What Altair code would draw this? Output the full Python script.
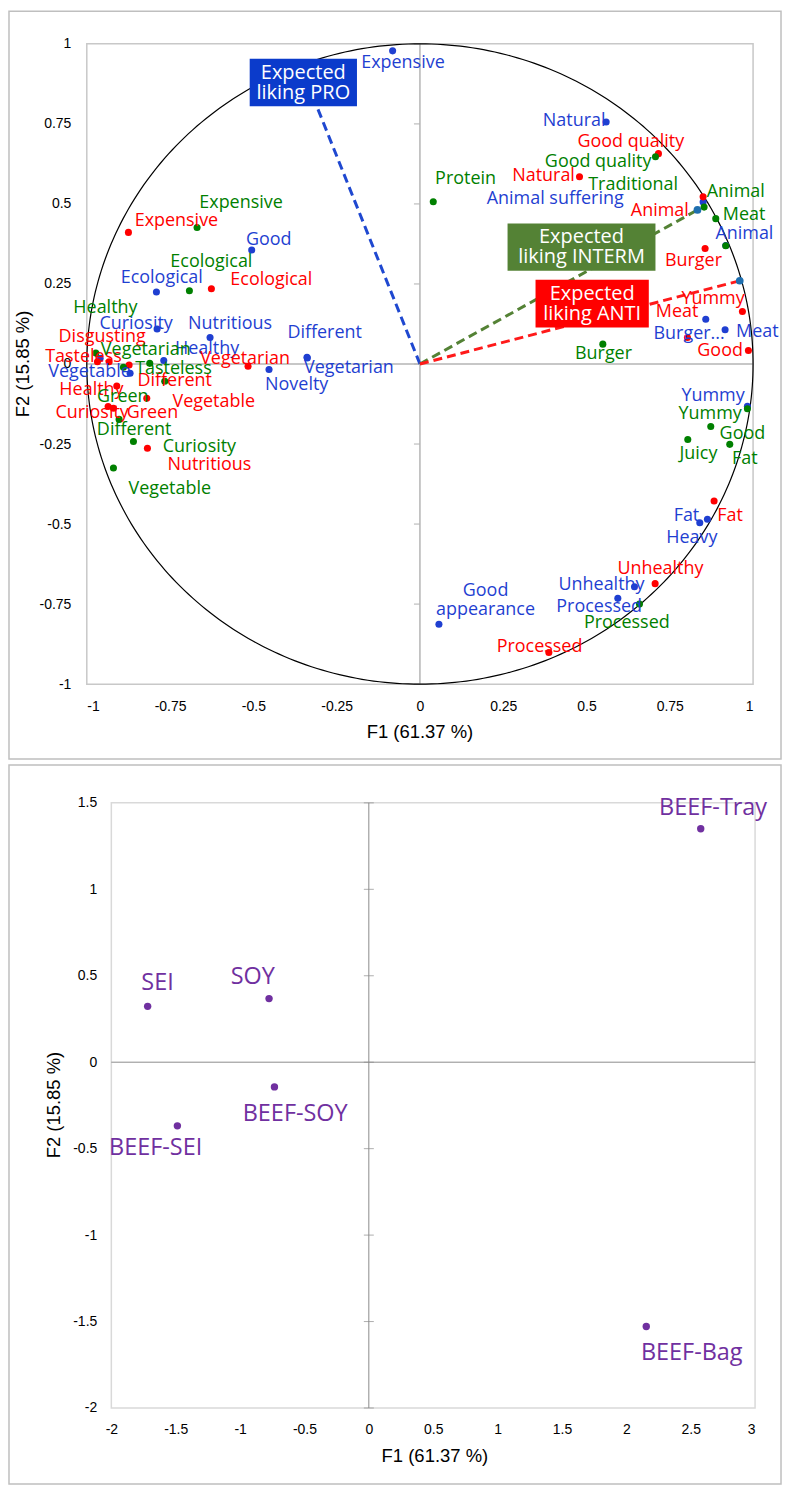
import altair as alt
import numpy as np
import pandas as pd

# ---------------- Top panel: correlation circle (F1 x F2) ----------------
blue_names = ["Expensive", "Natural", "Animal suffering", "Good", "Ecological", "Curiosity",
              "Nutritious", "Healthy", "", "Vegetable", "Different", "Vegetarian", "Novelty",
              "Animal", "Burger...", "Meat", "Yummy", "Fat", "Heavy", "Unhealthy", "Processed",
              "Good\nappearance"]
blue_x = [-0.082, 0.559, 0.850, -0.505, -0.791, -0.789, -0.630, -0.769, -0.960, -0.870, -0.339,
          -0.338, -0.453, 0.918, 0.858, 0.916, 0.983, 0.863, 0.840, 0.644, 0.594, 0.057]
blue_y = [0.978, 0.756, 0.506, 0.356, 0.225, 0.109, 0.083, 0.011, 0.018, -0.029, 0.021,
          0.019, -0.017, 0.370, 0.140, 0.107, -0.132, -0.485, -0.496, -0.696, -0.732, -0.813]
blue_lx = [-0.051, 0.463, 0.406, -0.454, -0.775, -0.852, -0.570, -0.639, -0.960, -0.992, -0.286,
           -0.213, -0.370, 0.974, 0.808, 1.013, 0.880, 0.800, 0.816, 0.545, 0.538, 0.197]
blue_ly = [0.940, 0.758, 0.516, 0.388, 0.270, 0.125, 0.125, 0.047, 0.018, -0.026, 0.097,
           -0.013, -0.065, 0.405, 0.093, 0.101, -0.101, -0.475, -0.542, -0.690, -0.760, -0.708]

red_names = ["Expensive", "Ecological", "Disgusting", "Tasteless", "Different", "Healthy",
             "Vegetable", "Curiosity", "Green", "Nutritious", "Vegetarian", "Good quality",
             "Natural", "Animal", "Burger", "Yummy", "Meat", "Good", "Fat", "Unhealthy", "Processed"]
red_x = [-0.875, -0.626, -0.933, -0.968, -0.873, -0.910, -0.820, -0.936, -0.920, -0.818, -0.516,
         0.716, 0.479, 0.850, 0.856, 0.968, 0.803, 0.986, 0.883, 0.706, 0.387]
red_y = [0.411, 0.235, 0.007, 0.007, -0.003, -0.069, -0.107, -0.133, -0.138, -0.263, -0.007,
         0.657, 0.585, 0.522, 0.361, 0.164, 0.083, 0.042, -0.428, -0.686, -0.901]
red_lx = [-0.731, -0.446, -0.954, -1.010, -0.736, -0.986, -0.619, -0.984, -0.803, -0.632, -0.525,
          0.633, 0.371, 0.720, 0.821, 0.880, 0.772, 0.901, 0.931, 0.722, 0.359]
red_ly = [0.448, 0.262, 0.083, 0.023, -0.054, -0.080, -0.119, -0.154, -0.154, -0.317, 0.016,
          0.694, 0.587, 0.478, 0.322, 0.202, 0.163, 0.039, -0.474, -0.640, -0.883]

green_names = ["Expensive", "Ecological", "Healthy", "Vegetarian", "Tasteless", "Different",
               "Green", "Curiosity", "Vegetable", "Protein", "Good quality", "Traditional",
               "Animal", "Meat", "Burger", "Yummy", "Good", "Fat", "Juicy", "Processed"]
green_x = [-0.669, -0.692, -0.973, -0.890, -0.811, -0.766, -0.903, -0.860, -0.920, 0.040, 0.707,
           0.853, 0.888, 0.918, 0.549, 0.983, 0.873, 0.930, 0.804, 0.659]
green_y = [0.426, 0.229, 0.034, -0.010, 0.002, -0.054, -0.173, -0.242, -0.325, 0.507, 0.647,
           0.490, 0.454, 0.369, 0.062, -0.140, -0.195, -0.251, -0.236, -0.750]
green_lx = [-0.537, -0.626, -0.944, -0.823, -0.740, -0.858, -0.892, -0.662, -0.751, 0.137, 0.535,
            0.640, 0.948, 0.973, 0.551, 0.871, 0.968, 0.975, 0.836, 0.621]
green_ly = [0.504, 0.317, 0.174, 0.044, -0.016, -0.207, -0.104, -0.259, -0.389, 0.579, 0.631,
            0.558, 0.537, 0.465, 0.031, -0.156, -0.218, -0.298, -0.281, -0.808]

# supplementary "expected liking" vectors (from the origin)
vec_names = ["Expected\nliking PRO", "Expected\nliking INTERM", "Expected\nliking ANTI"]
vec_x = [-0.327, 0.833, 0.960]
vec_y = [0.850, 0.481, 0.260]
box_x1 = [-0.511, 0.263, 0.347]
box_x2 = [-0.189, 0.707, 0.687]
box_y1 = [0.953, 0.439, 0.263]
box_y2 = [0.805, 0.291, 0.114]

top_ticks = [-1, -0.75, -0.5, -0.25, 0, 0.25, 0.5, 0.75, 1]

# ---------------- Bottom panel: products (F1 x F2) ----------------
prod_names = ["BEEF-Tray", "SEI", "SOY", "BEEF-SOY", "BEEF-SEI", "BEEF-Bag"]
prod_x = [2.578, -1.718, -0.775, -0.733, -1.487, 2.155]
prod_y = [1.350, 0.323, 0.368, -0.143, -0.368, -1.529]
prod_lx = [2.674, -1.641, -0.901, -0.572, -1.656, 2.508]
prod_ly = [1.471, 0.456, 0.490, -0.300, -0.496, -1.680]

bot_xticks = [-2, -1.5, -1, -0.5, 0, 0.5, 1, 1.5, 2, 2.5, 3]
bot_yticks = [-2, -1.5, -1, -0.5, 0, 0.5, 1, 1.5]

x_title = "F1 (61.37 %)"
y_title = "F2 (15.85 %)"

# ---------------- styling ----------------
FONT_LBL = "Open Sans"
FONT_AX = "Liberation Sans"
group_dom = ["blue", "red", "green"]
group_col = ["#1F3FD1", "#FF0000", "#008000"]
vec_line_col = ["#1F48D0", "#548235", "#FF1A1A"]
box_col = ["#0B3BCB", "#548235", "#FF0000"]
TEAL = "#1F6FAF"
PURPLE = "#7030A0"
ZERO_TOP = "#B4B4B4"
ZERO_BOT = "#8C8C8C"
FRAME = "#BFBFBF"
BORDER_TOP = "#C8C8C8"
BORDER_BOT = "#D9D9D9"
LABEL_EXPR = "toString(datum.value)"
LBL_SIZE = 18
LBL_LH = 19      # px between lines of a two-line label
BOX_LH = 20

# geometry (pixels)
TOP_W, TOP_H = 668, 642
BOT_PAD_L = 24.6            # bottom data area starts this far right of the shared view edge
BOT_W, BOT_H = 670, 606.7
FRAME_L, FRAME_R_TOP, FRAME_T_TOP, FRAME_B_TOP = 78, 28, 32.7, 75
FRAME_R_BOT, FRAME_T_BOT, FRAME_B_BOT = 26, 38, 76.3

TDX, TDY = [-1, 1], [-1, 1]
kx_top = (TDX[1] - TDX[0]) / TOP_W
ky_top = (TDY[1] - TDY[0]) / TOP_H
BDATA_X, BDY = [-2, 3], [-2, 1.5]
kx_bot = (BDATA_X[1] - BDATA_X[0]) / (BOT_W - BOT_PAD_L)
ky_bot = (BDY[1] - BDY[0]) / BOT_H
BDX = [BDATA_X[0] - BOT_PAD_L * kx_bot, BDATA_X[1]]


# ---------------- tables ----------------
def make_df(names, xs, ys, group):
    return pd.DataFrame({"name": names, "x": xs, "y": ys, "group": group})


def split_lines(df, step):
    rows = []
    for _, r in df.iterrows():
        if r["name"] == "":
            continue
        for i, part in enumerate(str(r["name"]).split("\n")):
            rows.append({"name": part, "x": r["x"], "y": r["y"] - i * step, "group": r["group"]})
    return pd.DataFrame(rows)


pts = pd.concat([make_df(blue_names, blue_x, blue_y, "blue"),
                 make_df(red_names, red_x, red_y, "red"),
                 make_df(green_names, green_x, green_y, "green")], ignore_index=True)
lbl = pd.concat([make_df(blue_names, blue_lx, blue_ly, "blue"),
                 make_df(red_names, red_lx, red_ly, "red"),
                 make_df(green_names, green_lx, green_ly, "green")], ignore_index=True)
lbl = split_lines(lbl, LBL_LH * ky_top)

theta = np.linspace(0, 2 * np.pi, 361)
circle = pd.DataFrame({"x": np.cos(theta), "y": np.sin(theta), "i": np.arange(361)})

vec_df = pd.DataFrame({"name": vec_names, "x": [0.0] * 3, "y": [0.0] * 3, "vx": vec_x, "vy": vec_y})
end_df = pd.DataFrame({"x": vec_x, "y": vec_y})
box_df = pd.DataFrame({"name": vec_names, "x": box_x1, "x2": box_x2, "y": box_y1, "y2": box_y2})
box_txt_df = split_lines(pd.DataFrame({
    "name": vec_names,
    "x": [(a + b) / 2 for a, b in zip(box_x1, box_x2)],
    "y": [(a + b) / 2 + BOX_LH / 2 * ky_top for a, b in zip(box_y1, box_y2)],
    "group": vec_names}), BOX_LH * ky_top)

origin = pd.DataFrame({"x": [0.0], "y": [0.0]})

frame_top_df = pd.DataFrame({"x": [TDX[0] - FRAME_L * kx_top], "x2": [TDX[1] + FRAME_R_TOP * kx_top],
                             "y": [TDY[1] + FRAME_T_TOP * ky_top], "y2": [TDY[0] - FRAME_B_TOP * ky_top]})
border_top_df = pd.DataFrame({"x": [TDX[0]], "x2": [TDX[1]], "y": [TDY[1]], "y2": [TDY[0]]})
top_titles = pd.DataFrame({
    "name": [x_title, y_title],
    "x": [0.0, TDX[0] - 64 * kx_top],
    "y": [TDY[0] - 48 * ky_top, 0.0],
    "angle": [0, 270]})

frame_bot_df = pd.DataFrame({"x": [BDX[0] - FRAME_L * kx_bot], "x2": [BDX[1] + FRAME_R_BOT * kx_bot],
                             "y": [BDY[1] + FRAME_T_BOT * ky_bot], "y2": [BDY[0] - FRAME_B_BOT * ky_bot]})
border_bot_df = pd.DataFrame({"x": [BDATA_X[0]], "x2": [BDATA_X[1]], "y": [BDY[1]], "y2": [BDY[0]]})
zero_h_bot = pd.DataFrame({"x": [BDATA_X[0]], "x2": [BDATA_X[1]], "y": [0.0]})
bot_titles = pd.DataFrame({
    "name": [x_title, y_title],
    "x": [0.513, BDATA_X[0] - 57.6 * kx_bot],
    "y": [BDY[0] - 48.3 * ky_bot, -0.248],
    "angle": [0, 270]})

prod_df = pd.DataFrame({"name": prod_names, "x": prod_x, "y": prod_y})
prod_lbl = pd.DataFrame({"name": prod_names, "x": prod_lx, "y": prod_ly})

# ---------------- top chart ----------------
xs_top = alt.Scale(domain=TDX, nice=False, zero=False)
ys_top = alt.Scale(domain=TDY, nice=False, zero=False)
ax_x_top = alt.Axis(values=top_ticks, labelExpr=LABEL_EXPR, title=None, labelPadding=15)
ax_y_top = alt.Axis(values=top_ticks, labelExpr=LABEL_EXPR, title=None, labelPadding=16)


def TX(f="x"):
    return alt.X(f"{f}:Q", scale=xs_top, axis=ax_x_top)


def TY(f="y"):
    return alt.Y(f"{f}:Q", scale=ys_top, axis=ax_y_top)


grp_color = alt.Color("group:N", scale=alt.Scale(domain=group_dom, range=group_col), legend=None)

frame_top = alt.Chart(frame_top_df).mark_rect(fillOpacity=0, stroke=FRAME, strokeWidth=1.5).encode(
    x=TX(), x2="x2:Q", y=TY(), y2="y2:Q")
border_top = alt.Chart(border_top_df).mark_rect(fillOpacity=0, stroke=BORDER_TOP, strokeWidth=1.5).encode(
    x=TX(), x2="x2:Q", y=TY(), y2="y2:Q")
zv_top = alt.Chart(origin).mark_rule(color=ZERO_TOP, strokeWidth=1.5).encode(x=TX())
zh_top = alt.Chart(origin).mark_rule(color=ZERO_TOP, strokeWidth=1.5).encode(y=TY())
zt_top = alt.Chart(pd.DataFrame({"x": [0.0] * len(top_ticks), "y": top_ticks})).mark_tick(
    orient="horizontal", size=6, thickness=1.5, xOffset=-3, color=ZERO_TOP).encode(x=TX(), y=TY())
circ = alt.Chart(circle).mark_line(color="black", strokeWidth=1.2).encode(x=TX(), y=TY(), order="i:Q")
vlines = alt.Chart(vec_df).mark_rule(strokeWidth=3, strokeDash=[9, 5]).encode(
    x=TX(), y=TY(), x2="vx:Q", y2="vy:Q",
    color=alt.Color("name:N", scale=alt.Scale(domain=vec_names, range=vec_line_col), legend=None))
points = alt.Chart(pts).mark_circle(size=50, opacity=1).encode(x=TX(), y=TY(), color=grp_color)
ends = alt.Chart(end_df).mark_circle(size=60, opacity=1, color=TEAL).encode(x=TX(), y=TY())
boxes = alt.Chart(box_df).mark_rect().encode(
    x=TX(), x2="x2:Q", y=TY(), y2="y2:Q",
    color=alt.Color("name:N", scale=alt.Scale(domain=vec_names, range=box_col), legend=None))
box_txt = alt.Chart(box_txt_df).mark_text(font=FONT_LBL, fontSize=20, color="white").encode(
    x=TX(), y=TY(), text="name:N")
labels = alt.Chart(lbl).mark_text(font=FONT_LBL, fontSize=LBL_SIZE).encode(
    x=TX(), y=TY(), text="name:N", color=grp_color)
titles_top = alt.Chart(top_titles).mark_text(font=FONT_AX, fontSize=18.5, color="black").encode(
    x=TX(), y=TY(), text="name:N", angle=alt.Angle("angle:Q", scale=None))

top = alt.layer(frame_top, border_top, zv_top, zh_top, zt_top, circ, vlines, points, ends, boxes,
                box_txt, labels, titles_top).resolve_scale(color="independent").properties(
    width=TOP_W, height=TOP_H)

# ---------------- bottom chart ----------------
xs_bot = alt.Scale(domain=BDX, nice=False, zero=False)
ys_bot = alt.Scale(domain=BDY, nice=False, zero=False)
ax_x_bot = alt.Axis(values=bot_xticks, labelExpr=LABEL_EXPR, title=None, labelPadding=15)
ax_y_bot = alt.Axis(values=bot_yticks, labelExpr=LABEL_EXPR, title=None, labelPadding=14.6,
                    offset=-BOT_PAD_L)


def BX(f="x"):
    return alt.X(f"{f}:Q", scale=xs_bot, axis=ax_x_bot)


def BY(f="y"):
    return alt.Y(f"{f}:Q", scale=ys_bot, axis=ax_y_bot)


frame_bot = alt.Chart(frame_bot_df).mark_rect(fillOpacity=0, stroke=FRAME, strokeWidth=1.5).encode(
    x=BX(), x2="x2:Q", y=BY(), y2="y2:Q")
border_bot = alt.Chart(border_bot_df).mark_rect(fillOpacity=0, stroke=BORDER_BOT, strokeWidth=1.5).encode(
    x=BX(), x2="x2:Q", y=BY(), y2="y2:Q")
zv_bot = alt.Chart(origin).mark_rule(color=ZERO_BOT, strokeWidth=1).encode(x=BX())
zh_bot = alt.Chart(zero_h_bot).mark_rule(color=ZERO_BOT, strokeWidth=1).encode(x=BX(), x2="x2:Q", y=BY())
zt_bot = alt.Chart(pd.DataFrame({"x": [0.0] * len(bot_yticks), "y": bot_yticks})).mark_tick(
    orient="horizontal", size=10, thickness=1, color=ZERO_BOT).encode(x=BX(), y=BY())
ppoints = alt.Chart(prod_df).mark_circle(size=55, opacity=1, color=PURPLE).encode(x=BX(), y=BY())
plabels = alt.Chart(prod_lbl).mark_text(font=FONT_LBL, fontSize=23.5, color=PURPLE).encode(
    x=BX(), y=BY(), text="name:N")
titles_bot = alt.Chart(bot_titles).mark_text(font=FONT_AX, fontSize=18.5, color="black").encode(
    x=BX(), y=BY(), text="name:N", angle=alt.Angle("angle:Q", scale=None))

bottom = alt.layer(frame_bot, border_bot, zv_bot, zh_bot, zt_bot, ppoints, plabels,
                   titles_bot).properties(width=BOT_W, height=BOT_H)

chart = alt.concat(top, bottom, columns=1).properties(
    align="none", spacing=4, padding=0, background="white"
).configure_view(strokeWidth=0).configure_axis(
    domain=False, ticks=False, grid=False,
    labelFont=FONT_AX, labelFontSize=14, labelColor="#000000")

chart.save("out.html", embed_options={"renderer": "svg", "actions": False})
